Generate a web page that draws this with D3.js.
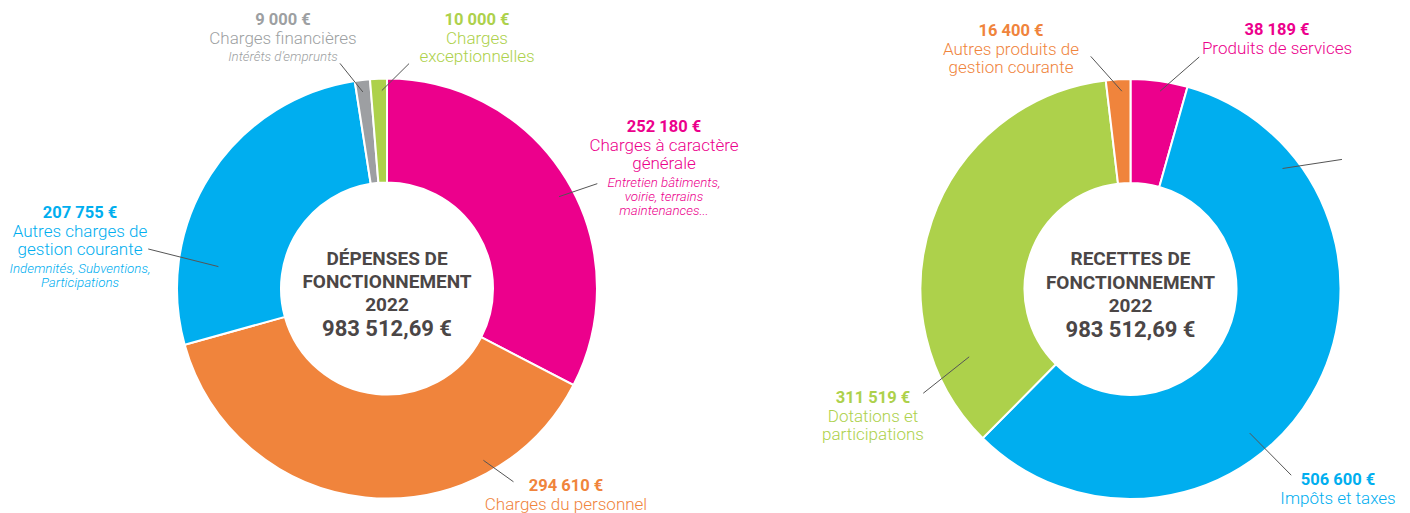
<!DOCTYPE html>
<html>
	<head>
		<meta charset="utf-8">
		<script src="https://d3js.org/d3.v7.min.js"></script>
		<style>
			body { margin: 0; background: #fff; }
			text { font-family: Roboto, "Open Sans", sans-serif; }
		</style>
	</head>
	<body>
		<script>
			/* Données : dépenses de fonctionnement (sens horaire à partir de midi) */
			var depNames = ["Charges à caractère générale", "Charges du personnel", "Autres charges de gestion courante", "Charges financières", "Charges exceptionnelles"];
			var depValues = [252180, 294610, 207755, 9000, 10000];
			var depColors = ["#ec008c", "#f0843c", "#00aeef", "#9d9fa2", "#add14b"];

			/* Données : recettes de fonctionnement */
			var recNames = ["Produits de services", "Impôts et taxes", "Dotations et participations", "Autres produits de gestion courante"];
			var recValues = [38189, 506600, 311519, 16400];
			var recColors = ["#ec008c", "#00aeef", "#add14b", "#f0843c"];

			var titleDep = ["DÉPENSES DE", "FONCTIONNEMENT", "2022", "983 512,69 €"];
			var titleRec = ["RECETTES DE", "FONCTIONNEMENT", "2022", "983 512,69 €"];

			/* Étiquettes : [index de la part, x, y de la 1re ligne, lignes (n = nom, i = italique)] */
			var depLabels = [
				{ i: 0, x: 664, y: 132, lines: [["n", "Charges à caractère"], ["n", "générale"], ["i", "Entretien bâtiments,"], ["i", "voirie, terrains"], ["i", "maintenances..."]] },
				{ i: 1, x: 566, y: 491, lines: [["n", "Charges du personnel"]] },
				{ i: 2, x: 80, y: 218, lines: [["n", "Autres charges de"], ["n", "gestion courante"], ["i", "Indemnités, Subventions,"], ["i", "Participations"]] },
				{ i: 3, x: 283, y: 25, lines: [["n", "Charges financières"], ["i", "Intérêts d’emprunts"]] },
				{ i: 4, x: 477, y: 25, lines: [["n", "Charges"], ["n", "exceptionnelles"]] }
			];
			var recLabels = [
				{ i: 0, x: 1277, y: 35, lines: [["n", "Produits de services"]] },
				{ i: 1, x: 1338, y: 485, lines: [["n", "Impôts et taxes"]] },
				{ i: 2, x: 873, y: 403, lines: [["n", "Dotations et"], ["n", "participations"]] },
				{ i: 3, x: 1011, y: 36, lines: [["n", "Autres produits de"], ["n", "gestion courante"]] }
			];

			/* Traits de rappel : [angle (degrés), rayon] intérieur puis extérieur */
			var depLeaders = [[[61.9, 195], [63.5, 235]], [[150.7, 197], [146.8, 231]], [[277.4, 170], [279.4, 242]], [[353, 198], [348.2, 230]], [[358.5, 198], [5.6, 226]]];
			var recLeaders = [[[8.5, 200], [16.5, 242]], [[51.6, 194], [58.5, 248]], [[140.4, 187], [139.2, 246]], [[247.2, 175], [243.3, 232]], [[357.5, 198], [350.3, 236]]];

			var width = 1410, height = 513;
			var outerR = 210, innerR = 106;

			var svg = d3.select("body").append("svg")
				.attr("width", width)
				.attr("height", height);

			var nf = function(v){ return d3.format(",")(v).replace(/,/g, " ") + " €"; };

			function donut(cx, cy, values, colors, title, labels, leaders){
				var pie = d3.pie().sort(null)(values);
				var arc = d3.arc().innerRadius(innerR).outerRadius(outerR);

				var g = svg.append("g").attr("transform", "translate(" + cx + "," + cy + ")");

				g.selectAll("path.slice")
					.data(pie)
					.enter()
					.append("path")
					.attr("class", "slice")
					.attr("d", arc)
					.attr("fill", function(d, i){ return colors[i]; })
					.attr("stroke", "#fff")
					.attr("stroke-width", 2);

				/* titre central */
				var ty = [-24, -0.5, 22.5, 47.5];
				g.selectAll("text.title")
					.data(title)
					.enter()
					.append("text")
					.attr("class", "title")
					.attr("text-anchor", "middle")
					.attr("y", function(d, i){ return ty[i]; })
					.attr("fill", "#4b4646")
					.attr("font-weight", 700)
					.attr("font-size", function(d, i){ return i == 3 ? 22 : 19; })
					.text(function(d){ return d; });

				/* traits */
				var polar = function(p){
					var a = p[0] * Math.PI / 180;
					return [p[1] * Math.sin(a), -p[1] * Math.cos(a)];
				};
				g.selectAll("line.leader")
					.data(leaders)
					.enter()
					.append("line")
					.attr("class", "leader")
					.attr("x1", function(d){ return polar(d[0])[0]; })
					.attr("y1", function(d){ return polar(d[0])[1]; })
					.attr("x2", function(d){ return polar(d[1])[0]; })
					.attr("y2", function(d){ return polar(d[1])[1]; })
					.attr("stroke", "#555")
					.attr("stroke-width", 1);

				/* étiquettes */
				labels.forEach(function(l){
					var col = colors[l.i];
					var t = svg.append("g");
					t.append("text")
						.attr("x", l.x).attr("y", l.y)
						.attr("text-anchor", "middle")
						.attr("fill", col)
						.attr("font-weight", 700)
						.attr("font-size", 16.5)
						.text(nf(values[l.i]));
					var y = l.y, prev = "v";
					l.lines.forEach(function(ln){
						if (ln[0] == "n") y += (prev == "v" ? 18.5 : 18.5);
						else y += (prev == "i" ? 14 : 17.5);
						t.append("text")
							.attr("x", l.x).attr("y", y)
							.attr("text-anchor", "middle")
							.attr("fill", col)
							.attr("font-weight", 300)
							.attr("font-style", ln[0] == "i" ? "italic" : "normal")
							.attr("font-size", ln[0] == "i" ? 13.3 : 17)
							.text(ln[1]);
						prev = ln[0];
					});
				});
			}

			donut(387, 288.5, depValues, depColors, titleDep, depLabels, depLeaders);
			donut(1130.5, 289, recValues, recColors, titleRec, recLabels, recLeaders);
		</script>
	</body>
</html>
